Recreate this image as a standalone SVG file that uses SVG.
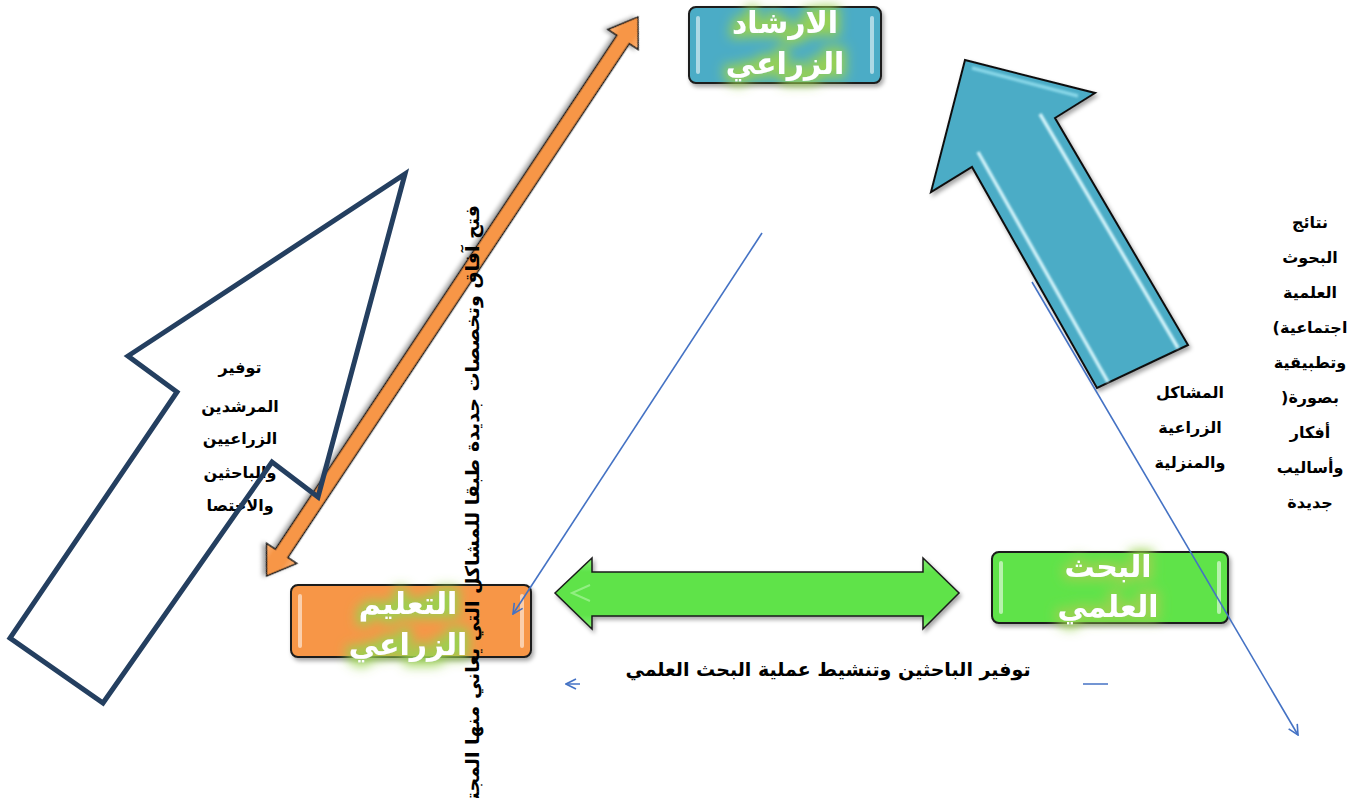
<svg xmlns="http://www.w3.org/2000/svg" width="1365" height="798" viewBox="0 0 1365 798">
<style>
.nt{font-family:'DejaVu Sans','Noto Sans',sans-serif;font-weight:bold;font-size:30px;fill:#ffffff;text-anchor:middle}
.lb{font-family:'DejaVu Sans','Noto Sans',sans-serif;font-weight:bold;font-size:16px;fill:#000000;text-anchor:middle}
.box{stroke:#1a1a1a;stroke-width:2}
.thin{fill:none;stroke:#4472c4;stroke-width:1.6}
.bev{fill:#ffffff;opacity:0.55}
</style>
<defs>
<filter id="glow" x="-40%" y="-40%" width="180%" height="180%">
<feMorphology in="SourceAlpha" operator="dilate" radius="4" result="d"/>
<feGaussianBlur in="d" stdDeviation="6" result="b"/>
<feFlood flood-color="#9ad24f" flood-opacity="0.95"/>
<feComposite in2="b" operator="in" result="g"/>
<feMerge><feMergeNode in="g"/><feMergeNode in="SourceGraphic"/></feMerge>
</filter>
<filter id="sh" x="-10%" y="-10%" width="130%" height="130%">
<feDropShadow dx="2" dy="3" stdDeviation="2" flood-color="#000" flood-opacity="0.35"/>
</filter>
<filter id="soft"><feGaussianBlur stdDeviation="1.2"/></filter>
<linearGradient id="gGreen" x1="0" y1="0" x2="0" y2="1">
<stop offset="0" stop-color="#86ef74"/><stop offset="0.2" stop-color="#5ee34a"/><stop offset="0.8" stop-color="#5ee34a"/><stop offset="1" stop-color="#86ef74"/>
</linearGradient>
<linearGradient id="gOr" x1="0" y1="0" x2="0" y2="1">
<stop offset="0" stop-color="#fbb57d"/><stop offset="0.3" stop-color="#f79646"/><stop offset="0.7" stop-color="#f79646"/><stop offset="1" stop-color="#fbb57d"/>
</linearGradient>
<marker id="open" viewBox="0 0 12 12" refX="11" refY="6" markerWidth="12" markerHeight="12" markerUnits="userSpaceOnUse" orient="auto">
<path d="M1,1 L11,6 L1,11" fill="none" stroke="#4472c4" stroke-width="1.6"/>
</marker>
</defs>
<rect width="1365" height="798" fill="#ffffff"/>

<g id="arrows">
<g id="blue-arrow" filter="url(#sh)">
<polygon points="965,60 1095,93 1055,118 1188,345 1097,388 972,167 931,192" fill="#4bacc6" stroke="#111" stroke-width="2" stroke-linejoin="miter"/>
<g filter="url(#soft)" stroke="#dffaff" stroke-width="3.5" opacity="0.9">
<line x1="978" y1="152" x2="1108" y2="382"/>
<line x1="1040" y1="114" x2="1178" y2="348"/>
<line x1="972" y1="68" x2="1078" y2="96" stroke="#8fdcec"/>
</g>
</g>
<g id="orange-arrow" transform="translate(638,17) rotate(123.6)" filter="url(#sh)">
<polygon points="0,0 27,-18 27,-7.5 644,-7.5 644,-18 671,0 644,18 644,7.5 27,7.5 27,18" fill="url(#gOr)" stroke="#1a1a1a" stroke-width="1.5"/>
</g>
<g id="green-arrow" filter="url(#sh)">
<polygon points="555,593 592,558 592,572 923,572 923,558 959,593 923,629 923,616 592,616 592,629" fill="url(#gGreen)" stroke="#1a1a1a" stroke-width="1.5"/>
<path d="M590,585 L572,593 L590,601" fill="none" stroke="#b5f7a8" stroke-width="2" opacity="0.6"/>
</g>
</g>

<g id="node-irshad">
<rect class="box" x="689" y="7" width="192" height="76" rx="7" fill="#4bacc6" filter="url(#sh)"/>
<rect class="bev" x="696" y="16" width="4" height="58" rx="2"/>
<rect class="bev" x="870" y="16" width="4" height="58" rx="2"/>
<g filter="url(#glow)">
<text class="nt" x="785" y="33">الارشاد</text>
<text class="nt" x="785" y="74">الزراعي</text>
</g>
</g>

<g id="node-bahth">
<rect class="box" x="992" y="552" width="236" height="71" rx="7" fill="#5ee34a" filter="url(#sh)"/>
<rect class="bev" x="999" y="561" width="4" height="53" rx="2"/>
<rect class="bev" x="1217" y="561" width="4" height="53" rx="2"/>
<g filter="url(#glow)">
<text class="nt" x="1108" y="577">البحث</text>
<text class="nt" x="1108" y="617">العلمي</text>
</g>
</g>

<g id="node-taaleem">
<rect class="box" x="291" y="585" width="240" height="72" rx="7" fill="#f79646" filter="url(#sh)"/>
<rect class="bev" x="298" y="594" width="4" height="54" rx="2"/>
<rect class="bev" x="520" y="594" width="4" height="54" rx="2"/>
<g filter="url(#glow)">
<text class="nt" x="408" y="614">التعليم</text>
<text class="nt" x="408" y="655">الزراعي</text>
</g>
</g>

<g id="connectors">
<line class="thin" x1="762" y1="233" x2="513" y2="614" marker-end="url(#open)"/>
<line class="thin" x1="1032" y1="282" x2="1298" y2="735" marker-end="url(#open)"/>
<line class="thin" x1="1108" y1="684" x2="566" y2="684" marker-end="url(#open)"/>
</g>

<g id="label-bottom">
<rect x="580" y="643" width="503" height="60" fill="#ffffff"/>
<text class="lb" x="828" y="676" style="font-size:19px">توفير الباحثين وتنشيط عملية البحث العلمي</text>
</g>

<g id="label-right" style="direction:rtl">
<text class="lb" x="1310" y="228">نتائج</text>
<text class="lb" x="1310" y="263">البحوث</text>
<text class="lb" x="1310" y="298">العلمية</text>
<text class="lb" x="1310" y="333" direction="rtl">اجتماعية)</text>
<text class="lb" x="1310" y="368">وتطبيقية</text>
<text class="lb" x="1310" y="403" direction="rtl">بصورة(</text>
<text class="lb" x="1310" y="438">أفكار</text>
<text class="lb" x="1310" y="473">وأساليب</text>
<text class="lb" x="1310" y="508">جديدة</text>
</g>

<g id="label-mashakel">
<text class="lb" x="1190" y="398">المشاكل</text>
<text class="lb" x="1190" y="433">الزراعية</text>
<text class="lb" x="1190" y="468">والمنزلية</text>
</g>

<g id="node-hollow-arrow">
<text class="lb" x="240" y="373">توفير</text>
<text class="lb" x="240" y="412">المرشدين</text>
<text class="lb" x="240" y="444">الزراعيين</text>
<text class="lb" x="240" y="478">والباحثين</text>
<text class="lb" x="240" y="511">والاختصا</text>
<polygon points="405,174 318,497 272,462 103,703 10,638 177,392 128,356" fill="none" stroke="#243f60" stroke-width="5" stroke-linejoin="miter"/>
</g>

<g id="label-vertical">
<text class="lb" transform="translate(479,205) rotate(-90)" style="text-anchor:end;font-size:19px">فتح آفاق وتخصصات جديدة طبقا للمشاكل التي يعاني منها المجتمع</text>
</g>
</svg>
